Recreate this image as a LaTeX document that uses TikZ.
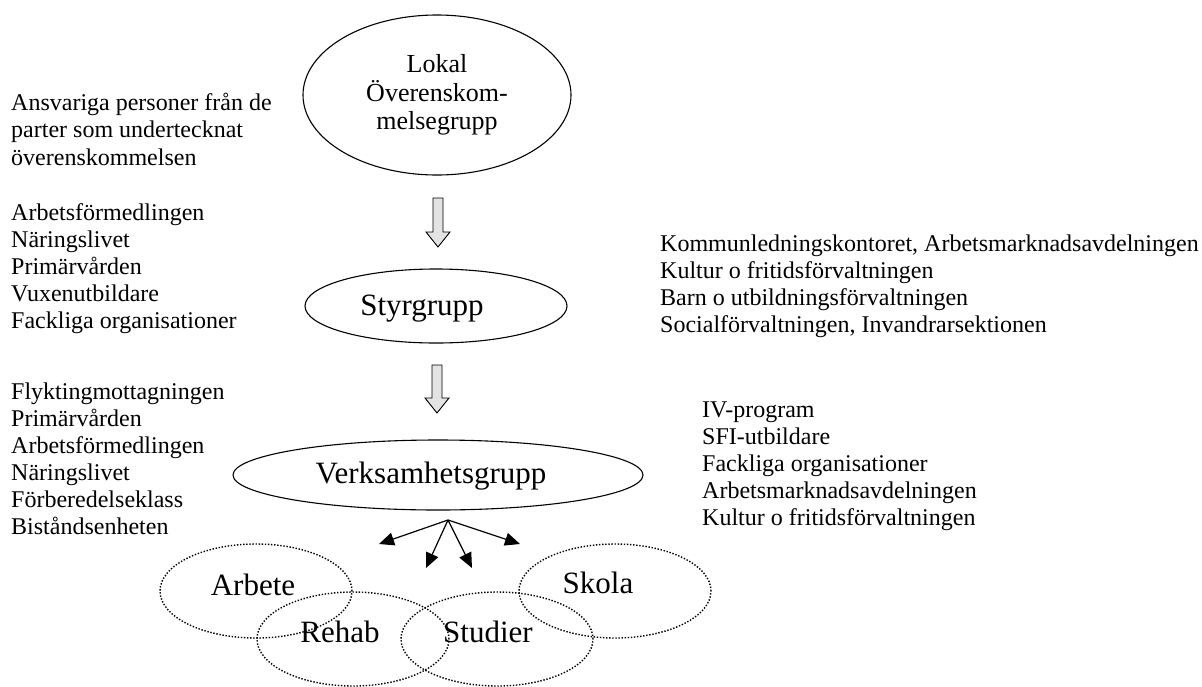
\documentclass[tikz,border=0pt]{standalone}
\usepackage{fontspec}
\setmainfont{Liberation Serif}
\usetikzlibrary{shapes.geometric,arrows.meta,calc}

\tikzset{
  group/.style={draw,ellipse,line width=1.1pt,inner sep=0pt},
  field/.style={draw,ellipse,line width=1.4pt,dash pattern=on 1.4pt off 1.7pt,
    inner sep=0pt,minimum width=192pt,minimum height=94pt},
  fieldtext/.style={font=\fontsize{31}{34}\selectfont},
  member/.style={anchor=base west,inner sep=0pt,font=\fontsize{24}{27}\selectfont},
  spread/.style={line width=1.2pt,-{Triangle[length=15pt,width=13pt]}},
  hollow/.style={draw,line width=0.9pt,fill=gray!22}
}

% hollow block arrow from #1 (top of shaft) down to #2 (tip)
\newcommand{\blockdown}[2]{%
  \draw[hollow] ($(#1)+(-5,0)$) -- ($(#2)+(-5,-15)$) -- ($(#2)+(-12,-15)$)
    -- (#2) -- ($(#2)+(12,-15)$) -- ($(#2)+(5,-15)$) -- ($(#1)+(5,0)$) -- cycle;}

\begin{document}
\begin{tikzpicture}[x=1pt,y=-1pt]
  \useasboundingbox (0,0) rectangle (1202,686);

  % the three groups
  \node[group,minimum width=268pt,minimum height=160pt,align=center,
    font=\fontsize{26}{28.5}\selectfont] (lokal) at (437,95)
    {Lokal\\Överenskom-\\melsegrupp};
  \node[group,minimum width=262pt,minimum height=74pt,
    label={[fieldtext,xshift=-14pt,yshift=-3pt]center:Styrgrupp}] (styr) at (436,306) {};
  \node[group,minimum width=410pt,minimum height=70pt,
    label={[fieldtext,xshift=-7pt,yshift=-1pt]center:Verksamhetsgrupp}] (verk) at (438,475) {};

  \coordinate (p1) at (438,198);
  \coordinate (q1) at (438,247);
  \coordinate (p2) at (437,365);
  \coordinate (q2) at (437,413);
  \blockdown{p1}{q1}
  \blockdown{p2}{q2}

  % members
  \path
    (11,110) node[member] (a1) {Ansvariga personer från de}
    (11,137) node[member] (a2) {parter som undertecknat}
    (11,165) node[member] (a3) {överenskommelsen};
  \path
    (11,220) node[member] (s1) {Arbetsförmedlingen}
    (11,247) node[member] (s2) {Näringslivet}
    (11,274) node[member] (s3) {Primärvården}
    (11,301) node[member] (s4) {Vuxenutbildare}
    (11,328) node[member] (s5) {Fackliga organisationer};
  \path
    (660,251) node[member] (k1) {Kommunledningskontoret, Arbetsmarknadsavdelningen}
    (660,278) node[member] (k2) {Kultur o fritidsförvaltningen}
    (660,305) node[member] (k3) {Barn o utbildningsförvaltningen}
    (660,332) node[member] (k4) {Socialförvaltningen, Invandrarsektionen};
  \path
    (11,399) node[member] (v1) {Flyktingmottagningen}
    (11,426) node[member] (v2) {Primärvården}
    (11,453) node[member] (v3) {Arbetsförmedlingen}
    (11,480) node[member] (v4) {Näringslivet}
    (11,507) node[member] (v5) {Förberedelseklass}
    (11,534) node[member] (v6) {Biståndsenheten};
  \path
    (702,417) node[member] (i1) {IV-program}
    (702,444) node[member] (i2) {SFI-utbildare}
    (702,471) node[member] (i3) {Fackliga organisationer}
    (702,498) node[member] (i4) {Arbetsmarknadsavdelningen}
    (702,525) node[member] (i5) {Kultur o fritidsförvaltningen};

  % fields of activity
  \node[field,label={[fieldtext,xshift=-3pt,yshift=6pt]center:Arbete}] (arbete) at (256,591) {};
  \node[field,label={[fieldtext,xshift=-13pt,yshift=7pt]center:Rehab}] (rehab) at (353,639) {};
  \node[field,label={[fieldtext,xshift=-9pt,yshift=7pt]center:Studier}] (studier) at (497,639) {};
  \node[field,label={[fieldtext,xshift=-17pt,yshift=8pt]center:Skola}] (skola) at (615,591) {};

  \coordinate (hub) at (448,520);
  \coordinate (t1) at (379,544);
  \coordinate (t2) at (426,568);
  \coordinate (t3) at (472,568);
  \coordinate (t4) at (520,544);
  \begin{scope}[spread]
    \draw (hub) to (t1);
    \draw (hub) to (t2);
    \draw (hub) to (t3);
    \draw (hub) to (t4);
  \end{scope}
\end{tikzpicture}
\end{document}
